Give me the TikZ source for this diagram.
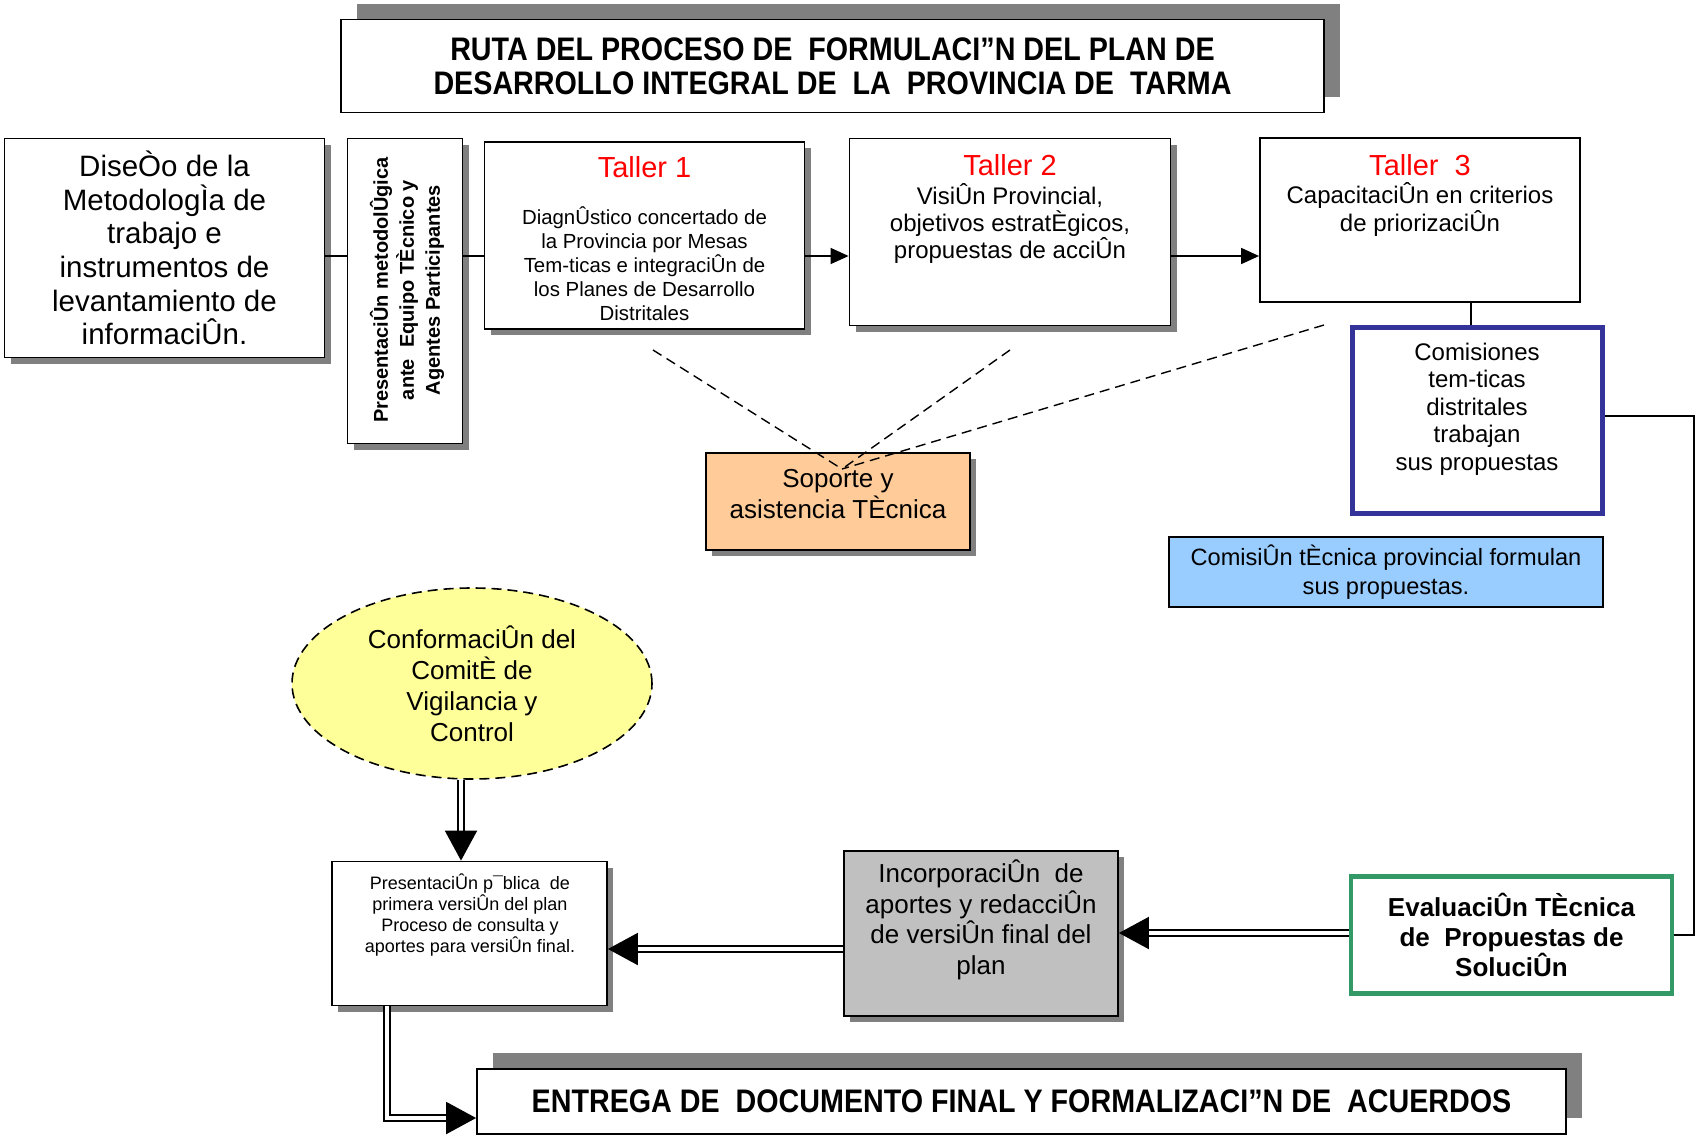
\documentclass[tikz,border=0pt]{standalone}
\usepackage{fontspec}
\setmainfont{Liberation Sans}
\newfontfamily\narrowfont[FakeStretch=0.88]{Liberation Sans}
\usetikzlibrary{shapes.geometric,shadows,arrows.meta}

\definecolor{shadowgray}{HTML}{808080}
\definecolor{peach}{HTML}{FFCC99}
\definecolor{skyblue}{HTML}{99CCFF}
\definecolor{paleyellow}{HTML}{FFFF99}
\definecolor{boxgray}{HTML}{C0C0C0}
\definecolor{navyline}{HTML}{333399}
\definecolor{greenline}{HTML}{339966}

\tikzset{
    box/.style={draw, line width=0.9pt, fill=white, rectangle, inner sep=0pt},
    shd/.style={drop shadow={shadow xshift=3pt, shadow yshift=-3pt, fill=shadowgray, opacity=1}},
    bigshd/.style={drop shadow={shadow xshift=8pt, shadow yshift=8pt, fill=shadowgray, opacity=1}},
    txt/.style={align=center, inner sep=0pt},
    hd/.style={txt, text=red, font=\fontsize{14.5}{17}\selectfont},
    cn/.style={line width=0.8pt},
    arr/.style={cn, -{Triangle[length=9pt,width=8pt]}},
    dbl/.style={double, double distance=2.2pt, line width=1pt, -{Triangle[length=15pt,width=16pt]}},
    dsh/.style={line width=0.7pt, dash pattern=on 5pt off 3pt}
}

\begin{document}
\begin{tikzpicture}[x=0.5pt, y=-0.5pt]

    \useasboundingbox (0,0) rectangle (1697,1136);

    % Title
    \node[box, bigshd, minimum width=491.5pt, minimum height=46.5pt,
          txt, font=\narrowfont\bfseries\fontsize{16.3}{17}\selectfont] (ttl) at (832.5,66)
        {RUTA DEL PROCESO DE~ FORMULACI”N DEL PLAN DE\\DESARROLLO INTEGRAL DE~ LA~ PROVINCIA DE~ TARMA};

    % First row
    \node[box, shd, minimum width=160pt, minimum height=109.5pt,
          txt, font=\fontsize{14.75}{16.8}\selectfont] (dis) at (164.5,248)
        {DiseÒo de la\\MetodologÌa de\\trabajo e\\instrumentos de\\levantamiento de\\informaciÛn.};

    \node[box, shd, minimum width=57.5pt, minimum height=152.5pt] (pm) at (405,291) {};
    \node[txt, rotate=90, font=\bfseries\fontsize{10}{13}\selectfont] (pm-txt) at (407,290)
        {PresentaciÛn metodolÛgica\\ante~ Equipo TÈcnico y\\Agentes Participantes};

    \node[box, shd, minimum width=160pt, minimum height=93.5pt] (t1) at (644.5,235.5) {};
    \node[hd] (t1-hd) at (644.5,167) {Taller 1};
    \node[txt, font=\fontsize{10.2}{12}\selectfont] (t1-txt) at (644.5,264)
        {DiagnÛstico concertado de\\la Provincia por Mesas\\Tem-ticas e integraciÛn de\\los Planes de Desarrollo\\Distritales};

    \node[box, shd, minimum width=160.5pt, minimum height=93.5pt] (t2) at (1010,232) {};
    \node[hd] (t2-hd) at (1010,165) {Taller 2};
    \node[txt, font=\fontsize{12}{13.6}\selectfont] (t2-txt) at (1010,223.5)
        {VisiÛn Provincial,\\objetivos estratÈgicos,\\propuestas de acciÛn};

    \node[box, minimum width=160pt, minimum height=82pt] (t3) at (1420,220) {};
    \node[hd] (t3-hd) at (1420,165) {Taller~ 3};
    \node[txt, font=\fontsize{12}{13.6}\selectfont] (t3-txt) at (1420,209.5)
        {CapacitaciÛn en criterios\\de priorizaciÛn};

    % Commissions
    \node[box, draw=navyline, line width=2.5pt, minimum width=125pt, minimum height=93pt] (com) at (1477.5,420.5) {};
    \node[txt, font=\fontsize{12}{13.8}\selectfont] (com-txt) at (1477,409)
        {Comisiones\\tem-ticas\\distritales\\trabajan\\sus propuestas};

    \node[box, shd, fill=peach, minimum width=132pt, minimum height=48.5pt] (sop) at (838,501.5) {};
    \node[txt, font=\fontsize{13}{15.5}\selectfont] (sop-txt) at (838,494)
        {Soporte y\\asistencia TÈcnica};

    \node[box, fill=skyblue, minimum width=217pt, minimum height=35pt,
          txt, font=\fontsize{11.8}{14.5}\selectfont] (cpf) at (1386,572)
        {ComisiÛn tÈcnica provincial formulan\\sus propuestas.};

    % Lower part
    \node[ellipse, draw, dash pattern=on 5pt off 3pt, line width=0.8pt, fill=paleyellow,
          minimum width=180pt, minimum height=95.5pt, inner sep=0pt,
          txt, font=\fontsize{13}{15.5}\selectfont] (cc) at (472,683.5)
        {ConformaciÛn del\\ComitÈ de\\Vigilancia y\\Control};

    \node[box, shd, minimum width=137.5pt, minimum height=72pt] (pp) at (469.5,933.5) {};
    \node[txt, font=\fontsize{9}{10.5}\selectfont] (pp-txt) at (470,914.5)
        {PresentaciÛn p¯blica~ de\\primera versiÛn del plan\\Proceso de consulta y\\aportes para versiÛn final.};

    \node[box, shd, fill=boxgray, minimum width=137pt, minimum height=82.5pt] (inc) at (981,933.5) {};
    \node[txt, font=\fontsize{13}{15.3}\selectfont] (inc-txt) at (981,920)
        {IncorporaciÛn~ de\\aportes y redacciÛn\\de versiÛn final del\\plan};

    \node[box, draw=greenline, line width=2.2pt, minimum width=160.5pt, minimum height=58.5pt,
          txt, font=\bfseries\fontsize{13}{14.8}\selectfont] (ev) at (1511.5,935)
        {EvaluaciÛn TÈcnica\\de~ Propuestas de\\SoluciÛn};

    \node[box, bigshd, minimum width=544.5pt, minimum height=32.5pt,
          txt, font=\narrowfont\bfseries\fontsize{16.3}{17}\selectfont] (ent) at (1021.5,1101.5)
        {ENTREGA DE~ DOCUMENTO FINAL Y FORMALIZACI”N DE~ ACUERDOS};

    % Helper coordinates
    \coordinate (row) at (0,256);
    \coordinate (tc) at (1471,0);
    \coordinate (cr) at (1694,416);
    \coordinate (r1) at (0,933);
    \coordinate (r2) at (0,949);
    \coordinate (c1) at (461,0);
    \coordinate (c2) at (387,1118);
    \coordinate (sp) at (842,469);
    \coordinate (d1) at (653,350);
    \coordinate (d2) at (1010,350);
    \coordinate (d3) at (1324,325);

    % Connectors
    \draw[cn] (dis.east |- row) -- (pm.west |- row);
    \draw[cn] (pm.east |- row) -- (t1.west |- row);
    \draw[arr] (t1.east |- row) -- (t2.west |- row);
    \draw[arr] (t2.east |- row) -- (t3.west |- row);
    \draw[cn] (t3.south -| tc) -- (com.north -| tc);
    \draw[cn] (com.east |- cr) -- (cr) |- (ev.east);

    \draw[dbl] (ev.west |- r1) -- (inc.east |- r1);
    \draw[dbl] (inc.west |- r2) -- (pp.east |- r2);
    \draw[dbl] (cc.south -| c1) -- (pp.north -| c1);
    \draw[dbl] (pp.south -| c2) |- (ent.west |- c2);

    % Dashed support lines
    \foreach \d in {d1,d2,d3}{
        \draw[dsh] (\d) -- (sp);
    }

\end{tikzpicture}
\end{document}
